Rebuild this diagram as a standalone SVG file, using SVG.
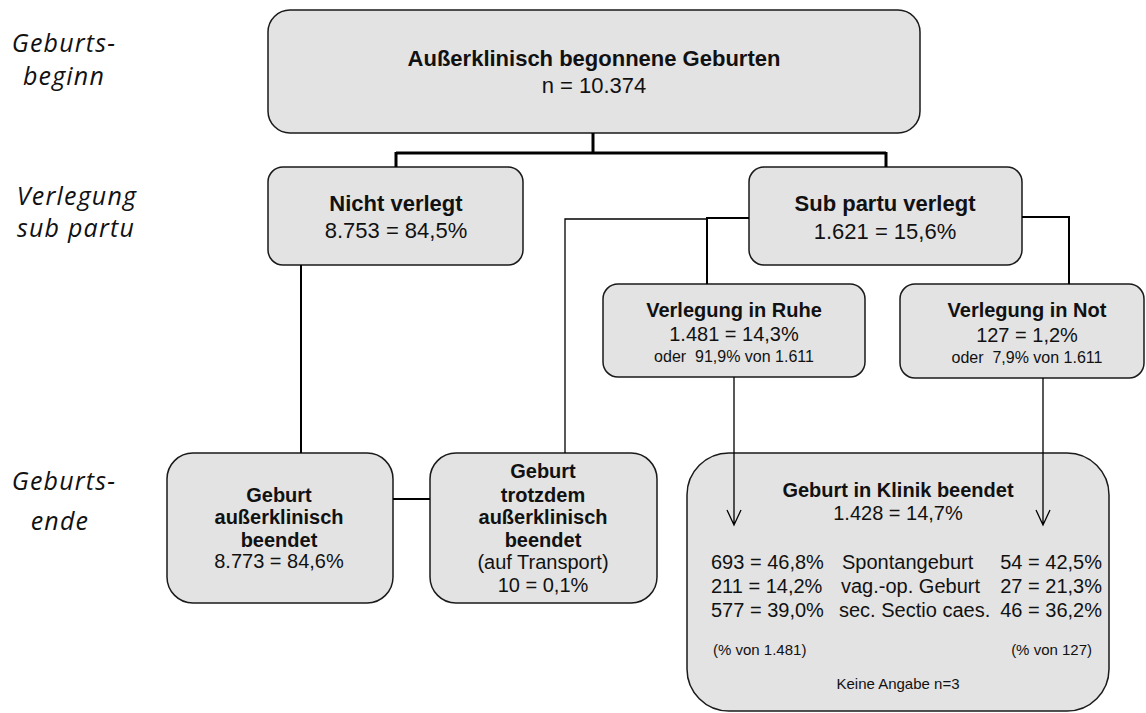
<svg xmlns="http://www.w3.org/2000/svg" width="1146" height="713" viewBox="0 0 1146 713">
<defs>
<style>
.box{fill:#e3e3e3;stroke:#1a1a1a;stroke-width:1.5}
.t{font-family:"Liberation Sans",Arial,sans-serif;fill:#111;text-anchor:middle}
.b{font-weight:bold}
.s22{font-size:22px}
.s20{font-size:20px}
.s16{font-size:16px;white-space:pre}
.s15{font-size:15px}
.side{font-family:"Open Sans","Noto Sans",sans-serif;font-style:italic;font-size:25px;letter-spacing:1.2px;fill:#111;text-anchor:middle}
.thick{fill:none;stroke:#000;stroke-width:3}
.med{fill:none;stroke:#000;stroke-width:2}
.thin{fill:none;stroke:#000;stroke-width:1.3}
.st{text-anchor:start}
.en{text-anchor:end}
</style>
</defs>
<rect width="1146" height="713" fill="#fff"/>
<g id="side-labels">
<text class="side" x="64" y="52">Geburts-</text>
<text class="side" x="64" y="85">beginn</text>
<text class="side" x="77" y="205">Verlegung</text>
<text class="side" x="76" y="237">sub partu</text>
<text class="side" x="64" y="490">Geburts-</text>
<text class="side" x="60" y="530">ende</text>
</g>
<g id="node-start">
<rect class="box" x="268" y="10" width="652" height="123" rx="22"/>
<text class="t b s22" x="594" y="66">Außerklinisch begonnene Geburten</text>
<text class="t s22" x="594" y="93">n = 10.374</text>
</g>
<g id="node-nicht-verlegt">
<rect class="box" x="268" y="167" width="255" height="98" rx="15"/>
<text class="t b s22" x="396" y="211">Nicht verlegt</text>
<text class="t s22" x="396" y="238">8.753 = 84,5%</text>
</g>
<g id="node-sub-partu">
<rect class="box" x="749" y="167" width="273" height="98" rx="15"/>
<text class="t b s22" x="885" y="211">Sub partu verlegt</text>
<text class="t s22" x="885" y="239">1.621 = 15,6%</text>
</g>
<g id="node-ruhe">
<rect class="box" x="603" y="284" width="262" height="93" rx="15"/>
<text class="t b s20" x="734" y="317">Verlegung in Ruhe</text>
<text class="t s20" x="734" y="341">1.481 = 14,3%</text>
<text class="t s16" x="734" y="362">oder  91,9% von 1.611</text>
</g>
<g id="node-not">
<rect class="box" x="900" y="284" width="244" height="94" rx="15"/>
<text class="t b s20" x="1027" y="317">Verlegung in Not</text>
<text class="t s20" x="1027" y="342">127 = 1,2%</text>
<text class="t s16" x="1027" y="363">oder  7,9% von 1.611</text>
</g>
<g id="node-ausserklinisch">
<rect class="box" x="167" y="453" width="226" height="150" rx="26"/>
<text class="t b s20" x="279" y="502">Geburt</text>
<text class="t b s20" x="279" y="524">außerklinisch</text>
<text class="t b s20" x="279" y="547">beendet</text>
<text class="t s20" x="279" y="568">8.773 = 84,6%</text>
</g>
<g id="node-transport">
<rect class="box" x="430" y="453" width="227" height="150" rx="26"/>
<text class="t b s20" x="543" y="478">Geburt</text>
<text class="t b s20" x="543" y="502">trotzdem</text>
<text class="t b s20" x="543" y="524">außerklinisch</text>
<text class="t b s20" x="543" y="547">beendet</text>
<text class="t s20" x="543" y="569">(auf Transport)</text>
<text class="t s20" x="543" y="592">10 = 0,1%</text>
</g>
<g id="node-klinik">
<rect class="box" x="687" y="453" width="422" height="258" rx="42"/>
<text class="t b s20" x="898" y="497">Geburt in Klinik beendet</text>
<text class="t s20" x="898" y="520">1.428 = 14,7%</text>
<text class="t s20 st" x="711" y="569">693 = 46,8%</text>
<text class="t s20 st" x="711" y="593">211 = 14,2%</text>
<text class="t s20 st" x="711" y="617">577 = 39,0%</text>
<text class="t s20 st" x="842" y="569">Spontangeburt</text>
<text class="t s20 st" x="841" y="593">vag.-op. Geburt</text>
<text class="t s20 st" x="839" y="617">sec. Sectio caes.</text>
<text class="t s20 en" x="1102" y="569">54 = 42,5%</text>
<text class="t s20 en" x="1102" y="593">27 = 21,3%</text>
<text class="t s20 en" x="1102" y="617">46 = 36,2%</text>
<text class="t s15 st" x="713" y="655">(% von 1.481)</text>
<text class="t s15 en" x="1092" y="655">(% von 127)</text>
<text class="t s15" x="898" y="689">Keine Angabe n=3</text>
</g>
<g id="connectors">
<path class="thick" d="M593,133 V153 M396,153 H886 M396,152 V167 M886,152 V167"/>
<path class="med" d="M749,218 H707 V284"/>
<path class="thin" d="M565,453 V219 H707"/>
<path class="med" d="M1022,217 H1069 V284"/>
<path class="med" d="M301,265 V453"/>
<path class="med" d="M393,499 H430"/>
<path class="thin" d="M734,377 V525 M727,510 L734,525 L741,510"/>
<path class="thin" d="M1043,378 V525 M1036,510 L1043,525 L1050,510"/>
</g>
</svg>
